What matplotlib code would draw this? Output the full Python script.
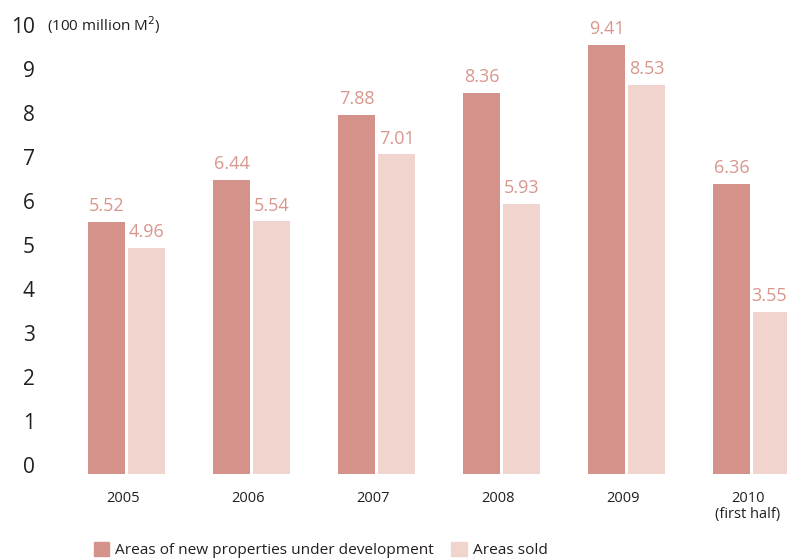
import numpy as np
import matplotlib.pyplot as plt
import matplotlib.transforms as mtransforms
from matplotlib.patches import Patch

years = ["2005", "2006", "2007", "2008", "2009", "2010\n(first half)"]
developed = [5.52, 6.44, 7.88, 8.36, 9.41, 6.36]
sold = [4.96, 5.54, 7.01, 5.93, 8.53, 3.55]

dark = "#d4928a"
light = "#f2d4cf"
lab_col = "#d8968d"
txt = "#231f20"
plt.rcParams['font.family'] = ['Open Sans', 'DejaVu Sans']

fig = plt.figure(figsize=(7.87, 5.58), dpi=100)
ax = fig.add_axes([50/787, 84/558, 737/787, 474/558])

x = np.arange(len(years))
w = 0.296
ax.bar(x - 0.16, developed, w, color=dark)
ax.bar(x + 0.16, sold, w, color=light)

for i in range(len(years)):
    ax.text(x[i] - 0.16, developed[i] + 0.15, "%.2f" % developed[i], ha="center", va="bottom",
            fontsize=13, color=lab_col)
    # last label sits at the right edge, keep it inside
    dx = -0.02 if i == len(years) - 1 else 0
    ax.text(x[i] + 0.16 + dx, sold[i] + 0.15, "%.2f" % sold[i], ha="center", va="bottom",
            fontsize=13, color=lab_col)

ax.set_xlim(-0.612, 5.284)
ax.set_ylim(0, 474/45.6)
ax.set_yticks(range(11))
ax.set_yticklabels([str(i) for i in range(11)], fontsize=15, color=txt)
ax.set_xticks(x - 0.03)
ax.set_xticklabels(years, fontsize=10.5, color=txt, linespacing=1.1, va="top")
ax.tick_params(axis="y", length=0, pad=11)
ax.tick_params(axis="x", length=0, pad=12)
for s in ax.spines.values():
    s.set_visible(False)

# the y labels in the original sit a little tighter than the bars
for i, lab in enumerate(ax.get_yticklabels()):
    dy = (9 - 1.6 * i) / 72.0 * 0.72
    lab.set_transform(lab.get_transform() + mtransforms.ScaledTranslation(0, dy, fig.dpi_scale_trans))

fig.text(47/787, 1 - 25/558, "(100 million M$^2$)", fontsize=11, color=txt, va="center")

handles = [Patch(color=dark, label="Areas of new properties under development"),
           Patch(color=light, label="Areas sold")]
fig.legend(handles=handles, loc="center left", bbox_to_anchor=(80/787, 1 - 550/558), ncol=2,
           frameon=False, fontsize=11.1, handlelength=1.0, handleheight=1.0,
           handletextpad=0.4, columnspacing=1.1, labelcolor=txt)

fig.savefig("out.png", dpi=100)
